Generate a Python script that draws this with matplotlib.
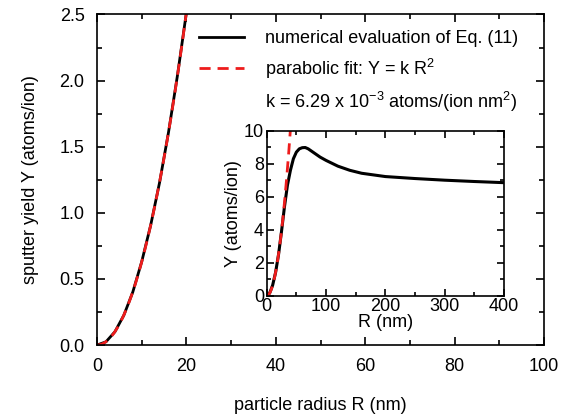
import numpy as np
import matplotlib
matplotlib.use("Agg")
import matplotlib.pyplot as plt
from matplotlib.lines import Line2D
from matplotlib.ticker import MultipleLocator, FormatStrFormatter

plt.rcParams['font.family'] = ['Liberation Sans', 'DejaVu Sans']
plt.rcParams['font.size'] = 13
plt.rcParams['mathtext.fontset'] = 'custom'
plt.rcParams['mathtext.rm'] = 'Liberation Sans'
plt.rcParams['mathtext.it'] = 'Liberation Sans:italic'
plt.rcParams['mathtext.bf'] = 'Liberation Sans:bold'

# numerical evaluation of Eq. (11), fine grid for the small-radius range
R_small = [0, 2, 4, 6, 8, 10, 12, 14, 16, 18, 20]
Y_small = [0, 0.024, 0.10, 0.225, 0.40, 0.63, 0.905, 1.23, 1.61, 2.04, 2.515]

# numerical evaluation of Eq. (11), full range
R_full = [0, 5, 10, 15, 20, 25, 30, 35, 40, 45, 50, 55, 60, 65, 70, 80, 90,
          100, 120, 140, 160, 180, 200, 250, 300, 350, 400]
Y_full = [0, 0.155, 0.63, 1.41, 2.5, 3.9, 5.4, 6.7, 7.6, 8.3, 8.7, 8.9,
          8.97, 8.98, 8.9, 8.65, 8.4, 8.2, 7.85, 7.6, 7.42, 7.32, 7.22,
          7.1, 7.0, 6.92, 6.85]

# parabolic fit Y = k R^2
k_fit = 6.29e-3
R_fit = np.linspace(0, 45, 200)
Y_fit = k_fit * R_fit ** 2

RED = '#ee1c1c'
DASH = (4, 2.5)

fig = plt.figure(figsize=(5.69, 4.19), dpi=100)
ax = fig.add_axes([0.1705, 0.1766, 0.7856, 0.7888])

ax.plot(R_small, Y_small, color='black', lw=2.0, solid_capstyle='butt')
ax.plot(R_fit, Y_fit, color=RED, lw=2.0, dashes=DASH)
ax.set_xlim(0, 100)
ax.set_ylim(0, 2.5)
ax.xaxis.set_major_locator(MultipleLocator(20))
ax.xaxis.set_minor_locator(MultipleLocator(10))
ax.yaxis.set_major_locator(MultipleLocator(0.5))
ax.yaxis.set_minor_locator(MultipleLocator(0.25))
ax.yaxis.set_major_formatter(FormatStrFormatter('%.1f'))
ax.tick_params(which='both', direction='in', top=True, right=True, width=1.2)
ax.tick_params(which='major', length=6, pad=9, labelsize=13)
ax.tick_params(which='minor', length=3.5)
for s in ax.spines.values():
    s.set_linewidth(1.2)
ax.set_xlabel('particle radius R (nm)', fontsize=13, labelpad=16)
ax.set_ylabel('sputter yield Y (atoms/ion)', fontsize=13, labelpad=15)

handles = [
    Line2D([], [], color='black', lw=2.0),
    Line2D([], [], color=RED, lw=2.0, dashes=DASH),
    Line2D([], [], color='none'),
]
labels = ['numerical evaluation of Eq. (11)',
          'parabolic fit: Y = k R$^\\mathrm{2}$',
          'k = 6.29 x 10$^\\mathrm{-3}$ atoms/(ion nm$^\\mathrm{2}$)']
leg = ax.legend(handles, labels, loc='upper left', bbox_to_anchor=(0.205, 0.985),
                frameon=False, fontsize=13, handlelength=2.45,
                handletextpad=1.2, labelspacing=0.52, borderaxespad=0.3,
                borderpad=0.3)

# inset: full radius range
ins = fig.add_axes([0.4687, 0.2943, 0.4171, 0.3938])
ins.plot(R_full, Y_full, color='black', lw=2.2)
ins.plot(R_fit, Y_fit, color=RED, lw=2.0, dashes=DASH)
ins.set_xlim(0, 400)
ins.set_ylim(0, 10)
ins.xaxis.set_major_locator(MultipleLocator(100))
ins.xaxis.set_minor_locator(MultipleLocator(50))
ins.yaxis.set_major_locator(MultipleLocator(2))
ins.yaxis.set_minor_locator(MultipleLocator(1))
ins.tick_params(which='both', direction='in', top=True, right=True, width=1.2)
ins.tick_params(which='major', length=5, pad=2, labelsize=13)
ins.tick_params(which='minor', length=3)
for s in ins.spines.values():
    s.set_linewidth(1.2)
ins.set_xlabel('R (nm)', fontsize=13, labelpad=-1)
ins.set_ylabel('Y (atoms/ion)', fontsize=13, labelpad=1)

fig.savefig('out.png', dpi=100)
